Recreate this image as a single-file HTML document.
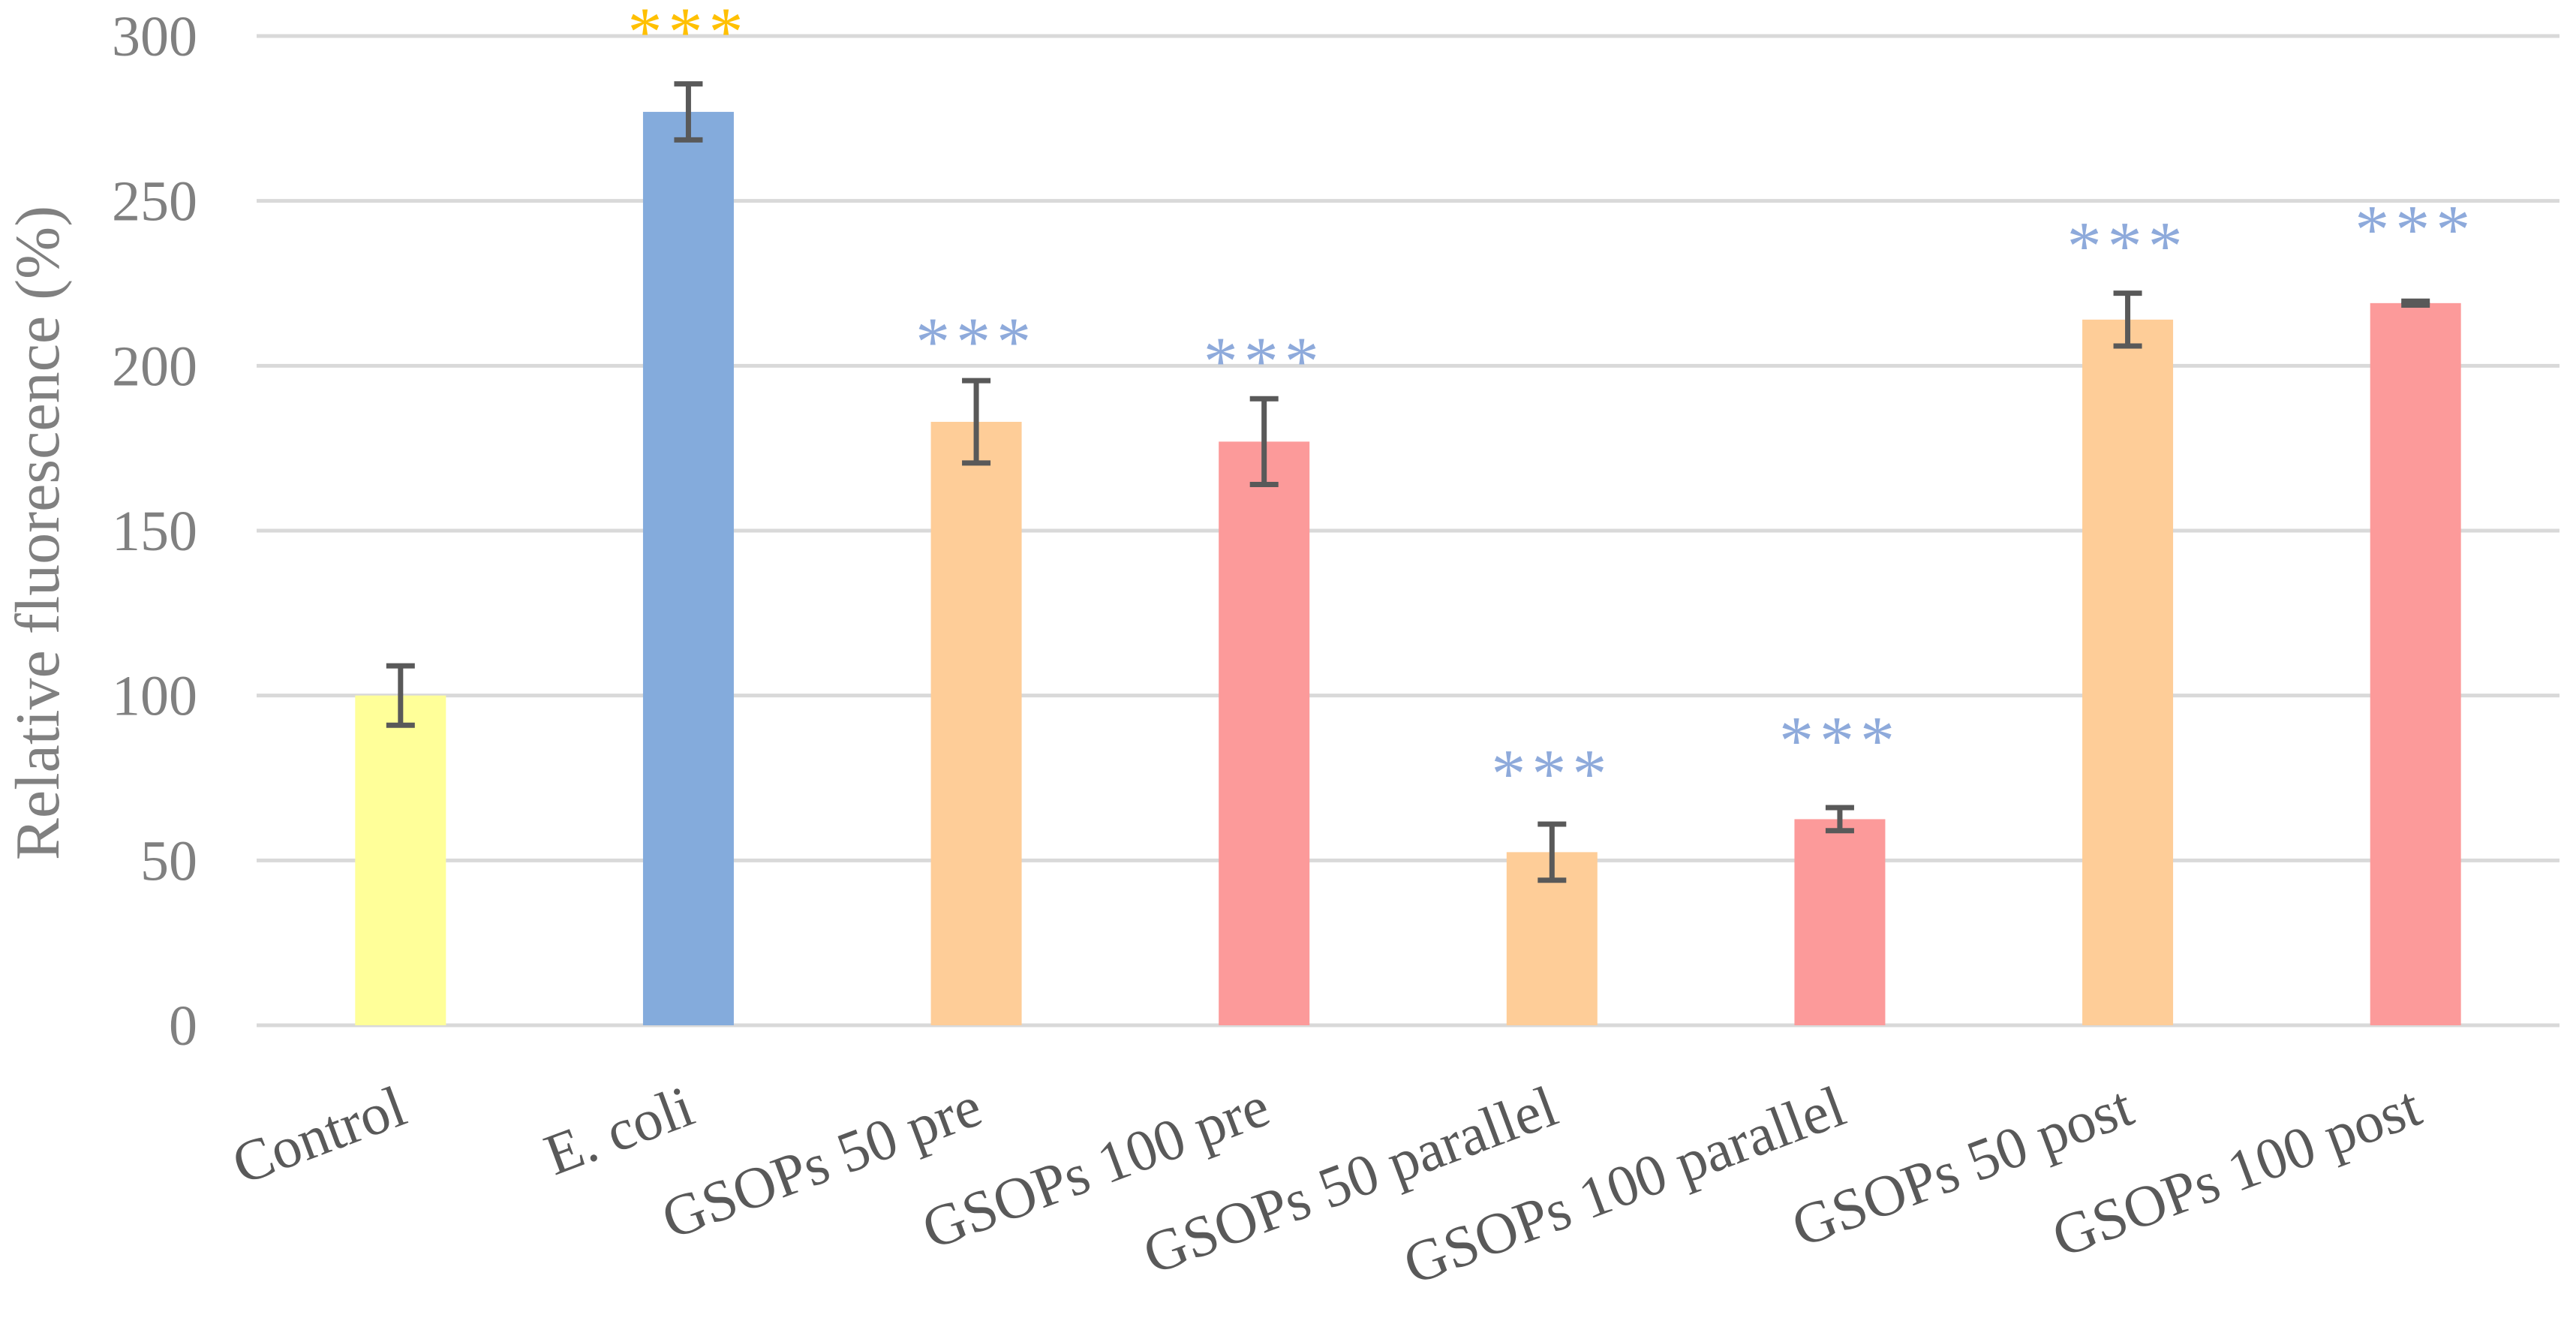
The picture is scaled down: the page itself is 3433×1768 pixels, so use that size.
<!DOCTYPE html>
<html><head><meta charset="utf-8"><style>
html,body{margin:0;padding:0;background:#fff;}
svg{display:block;}
</style></head><body>
<svg id="chart" width="3433" height="1768" viewBox="0 0 3433 1768" xmlns="http://www.w3.org/2000/svg">
<g id="grid"></g>
<g id="yticks"></g>
<text transform="translate(78,710) rotate(-90)" text-anchor="middle" font-family="Liberation Serif, serif" font-size="84" fill="#808080">Relative fluorescence (%)</text>
<g id="bars"></g>
<g id="errs"></g>
<g id="stars"></g>
<g id="xlabels"></g>
</svg>
<script>
const categories = ["Control","E. coli","GSOPs 50 pre","GSOPs 100 pre","GSOPs 50 parallel","GSOPs 100 parallel","GSOPs 50 post","GSOPs 100 post"];
const values = [100, 277, 183, 177, 52.5, 62.5, 214, 219];
const errors = [9, 8.5, 12.5, 13, 8.5, 3.5, 8, 0.6];
const colors = ["#FFFF99","#84ABDC","#FECD98","#FC9A9A","#FECD98","#FC9A9A","#FECD98","#FC9A9A"];
const stars = ["","***","***","***","***","***","***","***"];
const starLevels = [0, 303, 209, 203, 78, 88, 238, 243];
const starColors = ["","#FFC000","#8EAADB","#8EAADB","#8EAADB","#8EAADB","#8EAADB","#8EAADB"];
const yTicks = [0,50,100,150,200,250,300];

const NS="http://www.w3.org/2000/svg";
const L=342,R=3411,T=48,B=1366,YMAX=300;
const band=(R-L)/categories.length, bw=121;
const y=v=>B-(v/YMAX)*(B-T);
const xc=i=>L+band*(i+0.5);
function mk(tag,attrs,parent){const e=document.createElementNS(NS,tag);for(const k in attrs)e.setAttribute(k,attrs[k]);parent.appendChild(e);return e;}
const g=id=>document.getElementById(id);

yTicks.forEach(t=>{
  const ln=mk('line',{x1:L,x2:R,y1:y(t),y2:y(t),stroke:'#D9D9D9','stroke-width':5},g('grid'));
  
  
  const tx=mk('text',{x:263,y:y(t)+26,'text-anchor':'end','font-family':'Liberation Serif, serif','font-size':76,fill:'#808080'},g('yticks'));
  tx.textContent=t;
  
  
});

categories.forEach((c,i)=>{
  const cx=xc(i);
  const r=mk('rect',{x:cx-bw/2,y:y(values[i]),width:bw,height:B-y(values[i]),fill:colors[i]},g('bars'));
  
  
  const hi=y(values[i]+errors[i]), lo=y(values[i]-errors[i]);
  const eg=mk('g',{stroke:'#595959','stroke-width':7,fill:'none'},g('errs'));
  
  
  mk('line',{x1:cx,x2:cx,y1:hi,y2:lo},eg);
  mk('line',{x1:cx-19,x2:cx+19,y1:hi,y2:hi},eg);
  mk('line',{x1:cx-19,x2:cx+19,y1:lo,y2:lo},eg);
  if(stars[i]){
    const s=mk('text',{x:cx,y:y(starLevels[i])+38,'text-anchor':'middle','font-family':'Liberation Serif, serif','font-size':92,fill:starColors[i],'letter-spacing':'8'},g('stars'));
    s.textContent=stars[i];
    
    
  }
  const tx=mk('text',{transform:`translate(${cx+12},1495) rotate(-20.5)`,'text-anchor':'end','font-family':'Liberation Serif, serif','font-size':78,fill:'#595959'},g('xlabels'));
  tx.textContent=c;
  
  
});
</script>
</body></html>
